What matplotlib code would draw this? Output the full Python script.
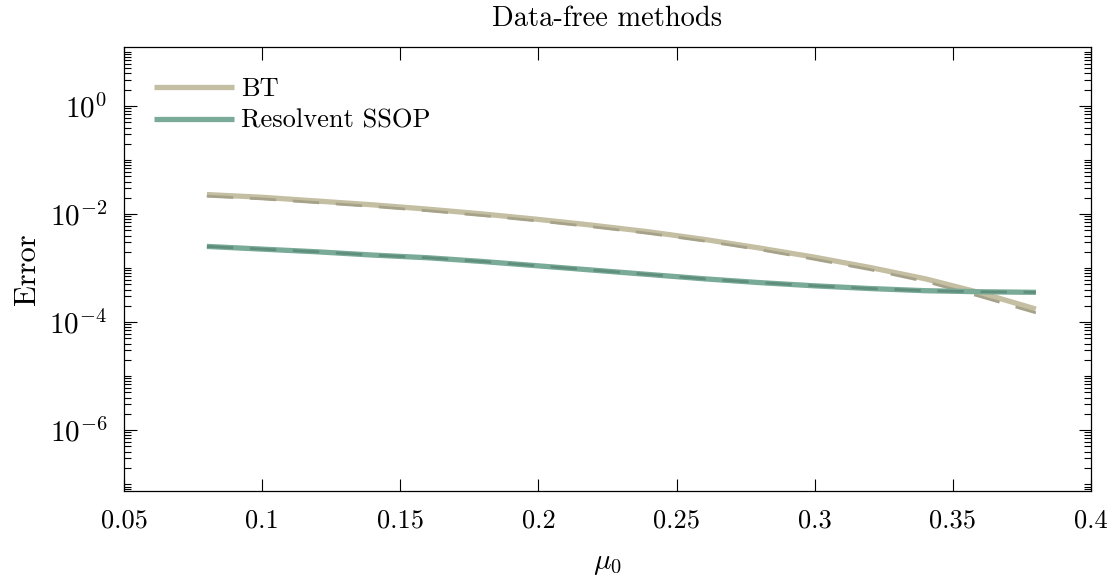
"""Data-free methods error plot
"""
import numpy as np
from matplotlib import pyplot as plt
from matplotlib.ticker import LogLocator, NullFormatter, NullLocator

plt.rcParams['font.family'] = 'serif'
plt.rcParams['font.serif'] = ['cmr10', 'DejaVu Serif']
plt.rcParams['mathtext.fontset'] = 'cm'
plt.rcParams['axes.formatter.use_mathtext'] = True

mu0 = [0.08, 0.10, 0.12, 0.14, 0.16, 0.18, 0.20, 0.22, 0.24, 0.26,
       0.28, 0.30, 0.32, 0.34, 0.36, 0.38]
# log10 of the errors
bt_log = [-1.64, -1.69, -1.76, -1.83, -1.91, -2.00, -2.10, -2.21, -2.33, -2.47,
          -2.63, -2.80, -2.99, -3.20, -3.46, -3.76]
bt_dash_log = [-1.67, -1.72, -1.79, -1.86, -1.94, -2.03, -2.13, -2.24, -2.36, -2.50,
               -2.66, -2.84, -3.03, -3.25, -3.53, -3.83]
ssop_log = [-2.60, -2.65, -2.70, -2.76, -2.81, -2.88, -2.96, -3.04, -3.12, -3.20,
            -3.27, -3.33, -3.38, -3.42, -3.44, -3.45]
ssop_dash_log = [-2.60, -2.65, -2.70, -2.76, -2.81, -2.88, -2.96, -3.04, -3.12, -3.20,
                 -3.27, -3.33, -3.38, -3.42, -3.44, -3.45]
x_ticks = [0.05, 0.1, 0.15, 0.2, 0.25, 0.3, 0.35, 0.4]
x_labels = ['0.05', '0.1', '0.15', '0.2', '0.25', '0.3', '0.35', '0.4']

fig = plt.figure(figsize=(11.1, 5.75), dpi=100)
axis = fig.add_axes([0.1117, 0.146, 0.8713, 0.772])

axis.plot(mu0, np.power(10.0, bt_log), color='#c4bfa2', linewidth=3.8,
          label='BT', solid_capstyle='butt')
axis.plot(mu0, np.power(10.0, bt_dash_log), color='#a6a28a', linewidth=2.0,
          linestyle=(0, (9.5, 6)))
axis.plot(mu0, np.power(10.0, ssop_log), color='#7aaa98', linewidth=3.8,
          label='Resolvent SSOP', solid_capstyle='butt')
axis.plot(mu0, np.power(10.0, ssop_dash_log), color='#5f8e7c', linewidth=2.0,
          linestyle=(0, (9.5, 6)))

axis.set_yscale('log')
axis.set_xlim(0.05, 0.4)
axis.set_ylim(10**-7.13, 10**1.09)
axis.set_xticks(x_ticks)
axis.set_xticklabels(x_labels)
axis.xaxis.set_minor_locator(NullLocator())
axis.set_yticks([1e-6, 1e-4, 1e-2, 1e0])
axis.yaxis.set_minor_locator(LogLocator(base=10, subs=np.arange(1, 10), numticks=100))
axis.yaxis.set_minor_formatter(NullFormatter())
axis.tick_params(which='both', direction='in', top=True, right=True, width=0.8)
axis.tick_params(axis='x', labelsize=19, pad=13)
axis.tick_params(axis='y', labelsize=21, pad=12)
axis.tick_params(which='major', length=9)
axis.tick_params(which='minor', length=5)
for side in axis.spines.values():
    side.set_linewidth(0.9)

axis.set_xlabel(r'$\mu_0$', fontsize=21, labelpad=13)
axis.set_ylabel('Error', fontsize=22, labelpad=6)
axis.set_title('Data-free methods', fontsize=20.5, pad=15)
axis.legend(loc='upper left', frameon=False, fontsize=19, handlelength=3.0,
            handletextpad=0.3, labelspacing=0.3, borderaxespad=0.75)

fig.savefig('out.png', dpi=100)
